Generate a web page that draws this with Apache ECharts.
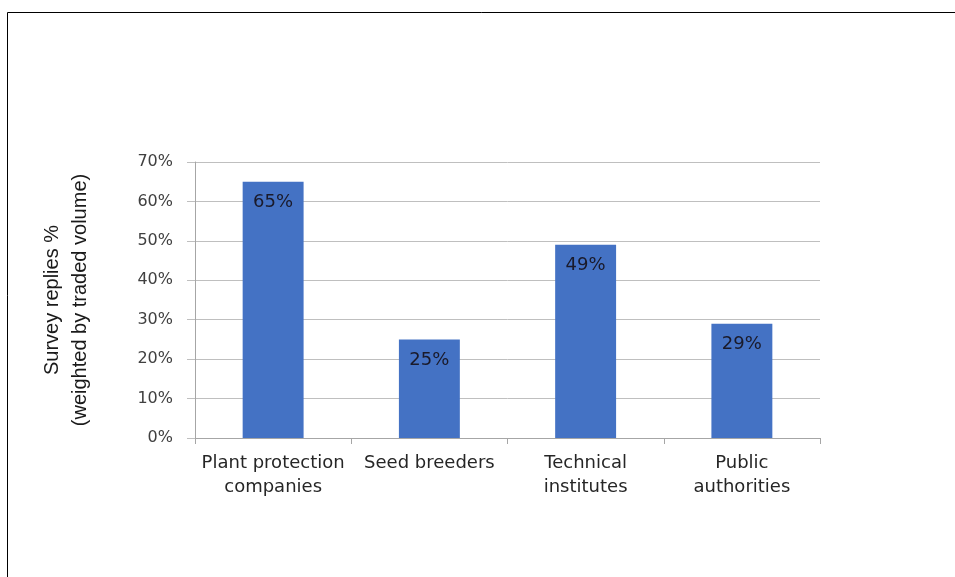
<!DOCTYPE html>
<html>
<head>
<meta charset="utf-8">
<title>Survey replies</title>
<script src="https://cdn.jsdelivr.net/npm/echarts@6/dist/echarts.min.js"></script>
<style>
  html, body { margin: 0; padding: 0; background: #ffffff; }
  #chart { width: 955px; height: 577px; }
</style>
</head>
<body>
<div id="chart"></div>
<script>
// Respondent groups and their share of survey replies (weighted by traded volume)
const categories = ['Plant protection\ncompanies', 'Seed breeders', 'Technical\ninstitutes', 'Public\nauthorities'];
const replyShare = [65, 25, 49, 29];
const yTicks = { min: 0, max: 70, interval: 10 };

const chart = echarts.init(document.getElementById('chart'), null, { renderer: 'canvas' });

const gridColor = '#BFBFBF';
const axisColor = '#A6A6A6';
const labelFont = '"DejaVu Sans", "Noto Sans", sans-serif';

chart.setOption({
  animation: false,
  backgroundColor: '#ffffff',
  grid: { left: 195, right: 135, top: 162, bottom: 139, containLabel: false },
  graphic: [
    {
      type: 'polyline',
      shape: { points: [[7.5, 600], [7.5, 12.5], [1000, 12.5]] },
      style: { stroke: '#000000', lineWidth: 1, fill: null },
      silent: true
    }
  ],
  xAxis: {
    type: 'category',
    data: categories,
    axisLine: { show: true, lineStyle: { color: axisColor, width: 1 } },
    axisTick: { show: true, alignWithLabel: false, length: 6, lineStyle: { color: axisColor } },
    axisLabel: {
      color: '#262626',
      fontFamily: labelFont,
      fontSize: 18,
      lineHeight: 24,
      margin: 13,
      interval: 0
    },
    splitLine: { show: false }
  },
  yAxis: {
    type: 'value',
    min: yTicks.min,
    max: yTicks.max,
    interval: yTicks.interval,
    name: 'Survey replies %\n(weighted by traded volume)',
    nameLocation: 'middle',
    nameGap: 101,
    nameRotate: 90,
    nameTextStyle: {
      color: '#1a1a1a',
      fontFamily: '"Liberation Sans", Arial, sans-serif',
      fontSize: 20,
      lineHeight: 28
    },
    axisLine: { show: true, lineStyle: { color: axisColor, width: 1 } },
    axisTick: { show: true, length: 8, lineStyle: { color: gridColor } },
    axisLabel: {
      color: '#404040',
      fontFamily: labelFont,
      fontSize: 16,
      margin: 22,
      formatter: v => v + '%'
    },
    splitLine: { show: true, lineStyle: { color: gridColor, width: 1 } }
  },
  series: [
    {
      type: 'bar',
      data: replyShare,
      barWidth: '39%',
      itemStyle: { color: '#4472C4' },
      label: {
        show: true,
        position: 'insideTop',
        distance: 12,
        color: '#1a1a2a',
        fontFamily: labelFont,
        fontSize: 18,
        formatter: p => p.value + '%'
      }
    }
  ]
});
</script>
</body>
</html>
